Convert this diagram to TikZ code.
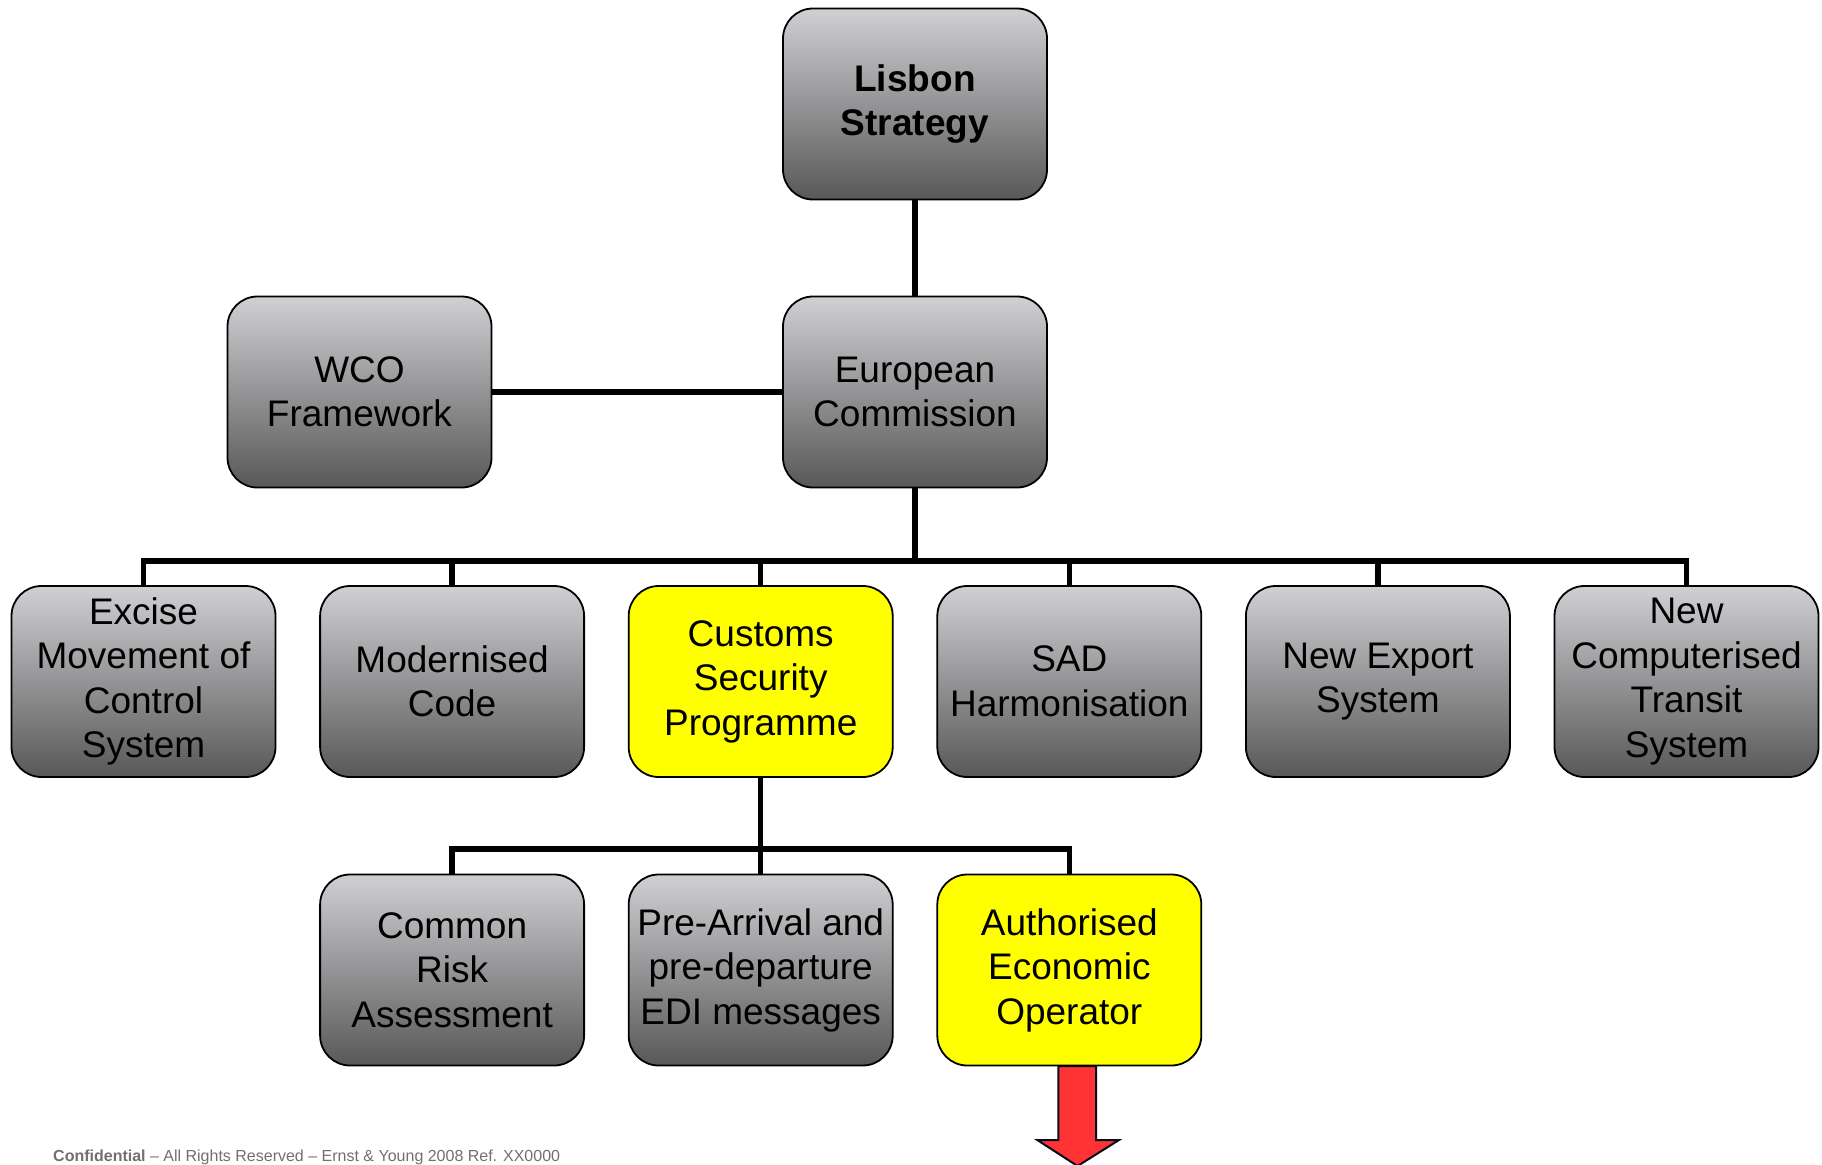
\documentclass[tikz,border=0pt]{standalone}
\usepackage{fontspec}
\setmainfont{Liberation Sans}
\usetikzlibrary{calc}
\definecolor{gtop}{RGB}{208,208,212}
\definecolor{gbot}{RGB}{88,88,88}
\definecolor{yel}{RGB}{255,255,0}
\definecolor{arrred}{RGB}{255,51,51}
\definecolor{arredge}{RGB}{10,10,30}
\definecolor{foot}{RGB}{112,112,112}
\tikzset{
  box/.style={draw=black, line width=1.8pt, rounded corners=30pt,
    minimum width=264pt, minimum height=191pt, inner sep=0pt,
    align=center, font=\fontsize{37}{44.5}\selectfont},
  graybox/.style={box, top color=gtop, bottom color=gbot},
  yelbox/.style={box, fill=yel},
  conn/.style={draw=black, line width=5.5pt},
}
\begin{document}
\begin{tikzpicture}[x=1pt,y=-1pt]
\useasboundingbox (0,0) rectangle (1822,1164);
% top
\node[graybox, font=\fontsize{37}{44}\selectfont\bfseries] (lisbon) at (915,104) {Lisbon\\Strategy};
\node[graybox] (ec) at (915,392) {European\\Commission};
\node[graybox] (wco) at (359.5,392) {WCO\\Framework};
% row 2
\node[graybox] (excise) at (143.5,681.5) {Excise\\Movement of\\Control\\System};
\node[graybox] (mod) at (452.1,681.5) {Modernised\\Code};
\node[yelbox] (csp) at (760.7,681.5) {Customs\\Security\\Programme};
\node[graybox] (sad) at (1069.3,681.5) {SAD\\Harmonisation};
\node[graybox] (nes) at (1377.9,681.5) {New Export\\System};
\node[graybox] (ncts) at (1686.5,681.5) {New\\Computerised\\Transit\\System};
% row 3
\draw[fill=arrred, draw=arredge, line width=2pt, line join=miter]
  ($(1069.3,1066)+(-11,0)$) -- ++(0,74) -- ++(-21,0) -- (1077.5,1166)
  -- (1119,1140) -- (1096,1140) -- (1096,1066) -- cycle;
\node[graybox] (cra) at (452.1,970) {Common\\Risk\\Assessment};
\node[graybox] (pre) at (760.7,970) {Pre-Arrival and\\pre-departure\\EDI messages};
\node[yelbox] (aeo) at (1069.3,970) {Authorised\\Economic\\Operator};
% connectors
\coordinate (bus1) at (0,561);
\coordinate (bus2) at (0,849);
\draw[conn] (lisbon.south) -- (ec.north);
\draw[conn] (wco.east) -- (ec.west);
\draw[conn] (ec.south) -- (ec.south |- bus1);
\draw[conn, line cap=rect] (excise.north |- bus1) -- (ncts.north |- bus1);
\foreach \n in {excise,mod,csp,sad,nes,ncts}{
  \draw[conn] (\n.north) -- (\n.north |- bus1);
}
\draw[conn] (csp.south) -- (csp.south |- bus2);
\draw[conn, line cap=rect] (cra.north |- bus2) -- (aeo.north |- bus2);
\foreach \n in {cra,pre,aeo}{
  \draw[conn] (\n.north) -- (\n.north |- bus2);
}
% footer
\node[anchor=base west, inner sep=0pt, text=foot, font=\fontsize{16}{19}\selectfont] (footer) at (53,1161)
  {\textbf{Confidential} – All Rights Reserved – Ernst \& Young 2008 Ref. XX0000};
\end{tikzpicture}
\end{document}
